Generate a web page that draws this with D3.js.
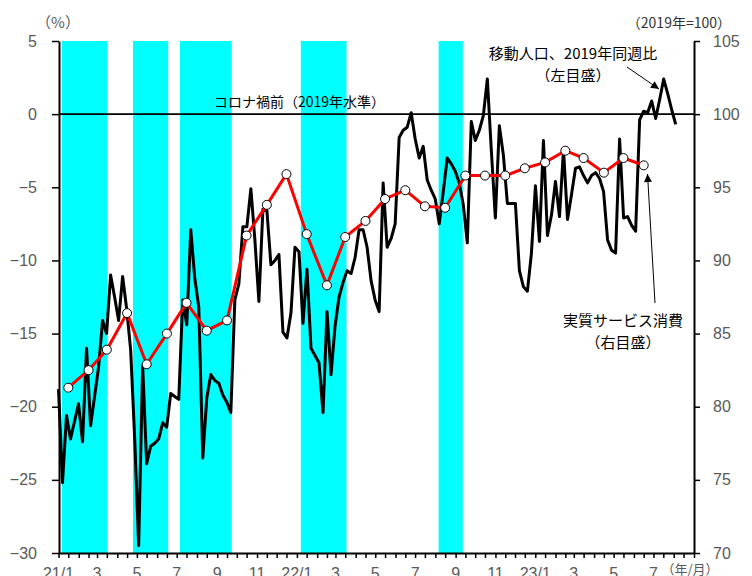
<!DOCTYPE html>
<html><head><meta charset="utf-8">
<script src="https://cdn.jsdelivr.net/npm/d3@7"></script>
<style>
html,body{margin:0;padding:0;background:#fff;}
svg{display:block;}
</style></head>
<body>
<svg id="chart" width="752" height="576"></svg>
<script>
// ---------- DATA ----------
// 移動人口、2019年同週比 (%), left axis — equally spaced observations
const mobilityStart = "2021-01-01";
const mobilityEnd = "2023-08-04";
const mobilityValues = [
 -18.8,-25.2,-20.6,-22.2,-21.0,-19.8,-22.4,-16.0,-21.3,-19.3,
 -17.3,-14.1,-15.0,-11.0,-12.5,-14.1,-11.1,-13.3,-16.1,-22.1,
 -29.5,-17.2,-23.9,-22.7,-22.5,-22.2,-21.1,-21.4,-19.1,-19.3,
 -19.5,-12.7,-14.4,-7.9,-11.2,-13.2,-23.5,-19.4,-17.8,-18.2,
 -18.4,-19.2,-19.7,-20.4,-12.7,-11.6,-7.7,-7.7,-5.1,-8.6,
 -12.8,-6.5,-6.6,-10.3,-10.0,-9.6,-14.9,-15.3,-13.6,-9.1,
 -9.4,-14.3,-10.6,-16.0,-16.5,-17.0,-20.4,-13.5,-17.8,-14.5,
 -12.5,-11.5,-10.7,-10.9,-9.8,-7.9,-7.9,-9.1,-11.4,-12.7,
 -13.5,-4.7,-9.1,-8.5,-7.5,-1.6,-1.1,-0.9,0.1,-1.7,
 -3.0,-2.2,-4.5,-5.2,-5.8,-7.5,-5.3,-3.0,-3.4,-3.9,
 -4.7,-6.2,-8.8,-0.5,-1.8,-1.1,-0.1,2.4,-2.5,-7.1,
 -0.8,-2.8,-6.1,-6.1,-6.1,-10.7,-11.8,-12.1,-9.5,-4.9,
 -8.7,-1.8,-8.3,-6.9,-4.6,-7.0,-2.4,-7.2,-5.5,-3.7,
 -3.6,-4.2,-4.7,-4.2,-4.0,-4.4,-5.3,-8.6,-9.3,-9.5,
 -1.7,-7.1,-7.0,-7.6,-8.0,-0.4,0.2,0.1,0.9,-0.3,
 1.0,2.4,1.4,0.3,-0.7
];
// 実質サービス消費 (2019年=100), right axis, monthly
const serviceMonths = [
 "2021-01","2021-02","2021-03","2021-04","2021-05","2021-06","2021-07","2021-08","2021-09","2021-10","2021-11","2021-12",
 "2022-01","2022-02","2022-03","2022-04","2022-05","2022-06","2022-07","2022-08","2022-09","2022-10","2022-11","2022-12",
 "2023-01","2023-02","2023-03","2023-04","2023-05","2023-06"
];
const serviceValues = [
 81.3,82.5,83.9,86.4,82.9,85.0,87.1,85.2,85.9,91.7,93.8,95.9,
 91.8,88.3,91.6,92.7,94.2,94.8,93.7,93.6,95.8,95.8,95.8,96.3,
 96.7,97.5,97.0,96.0,97.0,96.5
];
// shaded periods
const bandStarts = ["2021-01-06","2021-04-25","2021-07-06","2022-01-07","2022-08-06"];
const bandEnds   = ["2021-03-17","2021-06-18","2021-09-23","2022-03-18","2022-09-12"];
const leftTicks = [5,0,-5,-10,-15,-20,-25,-30];
const rightTicks = [105,100,95,90,85,80,75,70];

// ---------- CHART ----------
(function(){
const svg = d3.select("#chart");
const pTop = 41, pBottom = 553, pLeft = 59, pRight = 694;
const parse = d3.timeParse("%Y-%m-%d");
const x = d3.scaleTime().domain([new Date(2021,0,1), new Date(2023,8,1)]).range([58.5, pRight]);
const yL = d3.scaleLinear().domain([-30,5]).range([pBottom, pTop]);
const yR = d3.scaleLinear().domain([70,105]).range([pBottom, pTop]);
const font = "'Liberation Sans', Arial, sans-serif";
const jp = "'Noto Sans CJK JP', sans-serif";
const gray = "#595959";

// bands
svg.append("g").selectAll("rect").data(bandStarts.map((s,i)=>[parse(s), parse(bandEnds[i])]))
  .join("rect")
  .attr("x", d=>x(d[0])).attr("width", d=>x(d[1])-x(d[0]))
  .attr("y", pTop).attr("height", pBottom-pTop)
  .attr("fill", "#00FFFF");

// zero line
svg.append("line").attr("x1", pLeft).attr("x2", pRight)
  .attr("y1", yL(0)).attr("y2", yL(0)).attr("stroke", "#000").attr("stroke-width", 1.6);

// mobility line
const t0 = parse(mobilityStart), t1 = parse(mobilityEnd);
const xm = d3.scaleLinear().domain([0, mobilityValues.length-1]).range([x(t0), x(t1)]);
svg.append("path").datum(mobilityValues)
  .attr("fill","none").attr("stroke","#000").attr("stroke-width",3)
  .attr("stroke-linejoin","round")
  .attr("d", d3.line().x((d,i)=>xm(i)).y(d=>yL(d)));

// service line
const sData = serviceMonths.map((m,i)=>{ const [yy,mm]=m.split("-").map(Number); return {date:new Date(yy,mm-1,16), v:serviceValues[i]}; });
svg.append("path").datum(sData)
  .attr("fill","none").attr("stroke","#FF0000").attr("stroke-width",3)
  .attr("stroke-linejoin","round")
  .attr("d", d3.line().x(d=>x(d.date)).y(d=>yR(d.v)));
svg.append("g").selectAll("circle").data(sData).join("circle")
  .attr("cx", d=>x(d.date)).attr("cy", d=>yR(d.v)).attr("r", 4.5)
  .attr("fill","#fff").attr("stroke","#000").attr("stroke-width",1);

// axes
const gL = svg.append("g").attr("transform",`translate(${pLeft},0)`)
  .call(d3.axisLeft(yL).tickValues(leftTicks).tickSize(7).tickSizeOuter(0).tickPadding(15));
const gR = svg.append("g").attr("transform",`translate(${pRight},0)`)
  .call(d3.axisRight(yR).tickValues(rightTicks).tickSize(6).tickSizeOuter(0).tickPadding(13));
const tickDates = [];
for (let m = 0; m < 32; m++) {
  tickDates.push(new Date(2021, m, 1));
  tickDates.push(new Date(2021, m, 16));
}
tickDates.push(new Date(2023,8,1));
const gB = svg.append("g").attr("transform",`translate(0,${pBottom})`)
  .call(d3.axisBottom(x).tickValues(tickDates).tickSize(5).tickSizeOuter(0).tickFormat(""));
[gL,gR,gB].forEach(g=>{
  g.select(".domain").attr("stroke","#000").attr("stroke-width",2);
  g.selectAll(".tick line").attr("stroke","#000").attr("stroke-width",1.5);
  g.selectAll(".tick text").attr("fill",gray).style("font-family",font).style("font-size","16px");
});

// month labels
const labelDates = d3.timeMonth.every(2).range(new Date(2021,0,1), new Date(2023,7,1));
svg.append("g").selectAll("text").data(labelDates).join("text")
  .attr("x", d=>x(d)).attr("y", 579).attr("text-anchor","middle")
  .attr("fill",gray).style("font-family",font).style("font-size","16px")
  .text(d=> d.getMonth()===0 ? `${String(d.getFullYear()).slice(2)}/1` : `${d.getMonth()+1}`);
svg.append("text").attr("x", 690).attr("y", 574).attr("text-anchor","middle")
  .attr("fill",gray).style("font-family",jp).style("font-size","13px").text("（年/月）");

// unit labels
svg.append("text").attr("x", 58).attr("y", 28).attr("text-anchor","middle")
  .attr("fill",gray).style("font-family",jp).style("font-size","15px").text("（%）");
svg.append("text").attr("x", 731).attr("y", 28).attr("text-anchor","end")
  .attr("fill","#333").style("font-family",jp).style("font-size","14px").text("（2019年=100）");

// annotations
svg.append("text").attr("x", 214).attr("y", 107)
  .attr("fill","#000").style("font-family",jp).style("font-size","14px").text("コロナ禍前（2019年水準）");
svg.append("text").attr("x", 573).attr("y", 59).attr("text-anchor","middle")
  .attr("fill","#000").style("font-family",jp).style("font-size","15px").text("移動人口、2019年同週比");
svg.append("text").attr("x", 573).attr("y", 81).attr("text-anchor","middle")
  .attr("fill","#000").style("font-family",jp).style("font-size","15px").text("（左目盛）");
svg.append("text").attr("x", 623).attr("y", 326).attr("text-anchor","middle")
  .attr("fill","#000").style("font-family",jp).style("font-size","15px").text("実質サービス消費");
svg.append("text").attr("x", 623).attr("y", 348).attr("text-anchor","middle")
  .attr("fill","#000").style("font-family",jp).style("font-size","15px").text("（右目盛）");

// arrows
const defs = svg.append("defs");
defs.append("marker").attr("id","ah").attr("viewBox","0 0 10 10").attr("refX",10).attr("refY",5)
  .attr("markerWidth",10).attr("markerHeight",8).attr("markerUnits","userSpaceOnUse").attr("orient","auto")
  .append("path").attr("d","M0,0 L10,5 L0,10 Z").attr("fill","#000");
svg.append("line").attr("x1",627).attr("y1",67).attr("x2",659).attr("y2",89)
  .attr("stroke","#000").attr("stroke-width",1).attr("marker-end","url(#ah)");
svg.append("line").attr("x1",655).attr("y1",303).attr("x2",647.5).attr("y2",174)
  .attr("stroke","#000").attr("stroke-width",1).attr("marker-end","url(#ah)");
})();
</script>
</body></html>
